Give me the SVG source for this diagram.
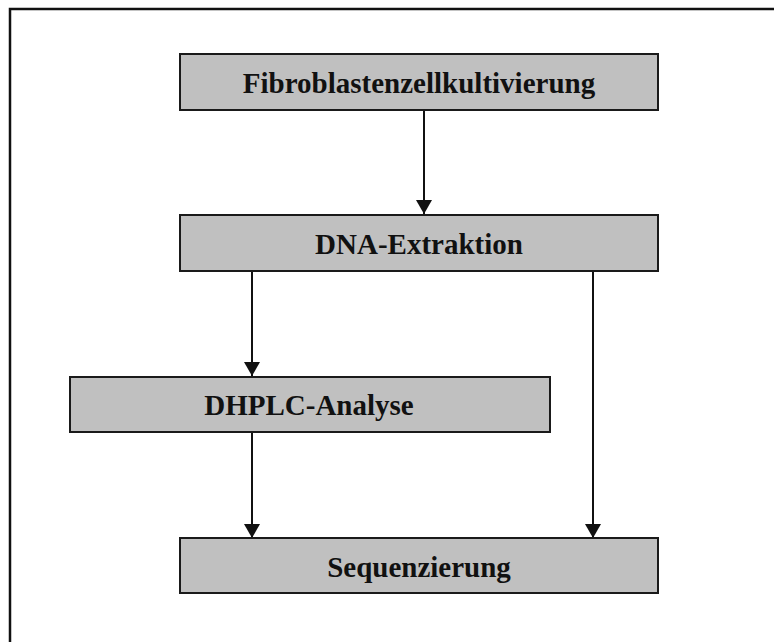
<svg xmlns="http://www.w3.org/2000/svg" width="774" height="642" viewBox="0 0 774 642">
<defs>
<style>
.box{fill:#c0c0c0;stroke:#1a1a1a;stroke-width:2}
.lbl{font-family:"Liberation Serif","Times New Roman",serif;font-weight:bold;font-size:29px;fill:#111;text-anchor:middle}
.conn{stroke:#111;stroke-width:2;fill:none;marker-end:url(#ah)}
</style>
<marker id="ah" markerUnits="userSpaceOnUse" markerWidth="16" markerHeight="16" refX="14" refY="8" orient="auto">
<path d="M0,0 L14,8 L0,16 Z" fill="#111"/>
</marker>
</defs>
<rect width="774" height="642" fill="#fff"/>
<path d="M10,642 V9 H774" fill="none" stroke="#111" stroke-width="2.5"/>
<g id="connectors">
<line class="conn" x1="424" y1="110" x2="424" y2="214"/>
<line class="conn" x1="252" y1="271" x2="252" y2="376"/>
<line class="conn" x1="593" y1="271" x2="593" y2="538"/>
<line class="conn" x1="252" y1="432" x2="252" y2="538"/>
</g>
<g id="n1"><rect class="box" x="180" y="54" width="478" height="56"/><text class="lbl" x="419" y="93">Fibroblastenzellkultivierung</text></g>
<g id="n2"><rect class="box" x="180" y="215" width="478" height="56"/><text class="lbl" x="419" y="254">DNA-Extraktion</text></g>
<g id="n3"><rect class="box" x="70" y="377" width="480" height="55"/><text class="lbl" x="309" y="415">DHPLC-Analyse</text></g>
<g id="n4"><rect class="box" x="180" y="538" width="478" height="55"/><text class="lbl" x="419" y="577">Sequenzierung</text></g>
</svg>
